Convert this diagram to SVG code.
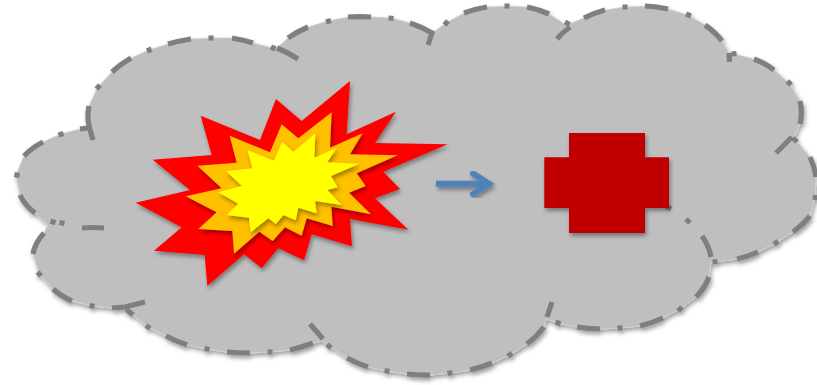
<svg xmlns="http://www.w3.org/2000/svg" width="817" height="385" viewBox="0 0 817 385">
<style>
.cloud{fill:#bfbfbf;stroke:#d0d0d0;stroke-width:.8}
.dash{fill:none;stroke:#7f7f7f;stroke-width:5.2;stroke-linecap:butt}
.shadow{filter:url(#ds)}
.arrow{fill:none;stroke:#4f81bd;stroke-width:6}
</style>
<defs>
<filter id="ds" x="-10%" y="-10%" width="125%" height="125%">
<feDropShadow dx="1.5" dy="3" stdDeviation="2.2" flood-color="#000" flood-opacity=".38"/>
</filter>
</defs>
<g id="cloud">
<g class="shadow">
<polygon class="cloud" points="48,225 35,213 20,195 16,175 24,156 43,142 61,134 80,129 89,128 89,106 98,87 112,72 131,58 149,50 168,44 191,39 211,38 232,38 253,43 273,48 277,48 288,38 308,27 328,21 348,17 371,17 391,18 410,23 431,34 446,23 464,13 487,7 507,6 527,7 549,14 566,25 584,18 605,10 625,7 645,6 668,9 688,15 705,25 722,41 729,53 734,54 754,59 774,70 789,83 800,101 800,124 794,138 810,157 816,177 815,197 810,216 793,232 776,243 758,252 737,259 715,262 711,262 709,277 696,297 680,309 663,318 640,326 620,328 600,329 577,327 558,323 546,319 544,327 527,344 510,355 492,363 470,370 450,373 430,375 407,374 387,371 368,367 347,358 329,346 322,341 313,343 290,350 270,352 250,353 227,352 207,349 187,345 166,336 148,327 133,315 126,309 112,308 92,306 72,301 53,289 39,274 33,254 44,233"/>
<path class="dash" d="M104 228A80 50 0 0 0 82 228M64.500 223.500L59.500 222.500M55.500 222.700L50.500 221M35 213A80 50 0 0 1 20 195M16.500 177.500L17.500 172.500M24 156A80 50 0 0 1 43 142M58.500 135L63.500 133.500M80 129A80 50 0 0 1 92 128"/>
<path class="dash" d="M93 140L89 126A124 77 0 0 1 89 106M96.500 89L100 85M112 72A124 77 0 0 1 131 58M147 51L151.500 49M168 44A124 77 0 0 1 191 39M208.500 38L213.500 38M232 38A124 77 0 0 1 253 43M271 47L275.500 49M277 48A124 77 0 0 1 298 59"/>
<path class="dash" d="M288 38A100 70 0 0 1 308 27M326 22L331 20.500M348 17A100 70 0 0 1 371 17M388.500 18L393.500 18.500M410 23A100 70 0 0 1 432 33L428 45"/>
<path class="dash" d="M444.500 25L448 21M464 13A85 55 0 0 1 487 7M504.500 6L509.500 6M527 7A85 55 0 0 1 549 14M565 22L569.500 24.500"/>
<path class="dash" d="M557 39A90 70 0 0 1 570 27M584 18A90 70 0 0 1 605 10M622.500 7L627.500 7M645 6A90 70 0 0 1 668 9M686 14L691 16M705 25A90 70 0 0 1 722 41M729 53L729.500 62"/>
<path class="dash" d="M731.500 54L736.500 53.500M754 59A70 60 0 0 1 774 70M787.500 81L791 85M800 101A70 60 0 0 1 800 124M792 137L776 153"/>
<path class="dash" d="M793 138L797 142M810 157A100 80 0 0 1 816 177M816 195L815 200M810 216A100 80 0 0 1 793 232M778 241L774 244.500M758 252A100 80 0 0 1 737 259M717.500 261.500L712.500 262"/>
<path class="dash" d="M652 198L671 209M686 219L690 223M702 236A110 70 0 0 1 711 257M709 277A110 70 0 0 1 696 297M682 307L678 311M663 318A110 70 0 0 1 640 326M622.500 327.500L617.500 328.500M600 329A110 70 0 0 1 577 327M560.500 324L555.500 322"/>
<path class="dash" d="M552 302L547 317M544 327A125 85 0 0 1 527 344M512 353L508 356.500M492 363A125 85 0 0 1 470 370M452.500 372.500L447.500 373.500M430 375A125 85 0 0 1 407 374M389.500 371.500L384.500 370.500M368 367A125 85 0 0 1 347 358M331 348L327 344.500M323 339L310 324"/>
<path class="dash" d="M313 343A130 75 0 0 1 290 350M272.500 352L267.500 352M250 353A130 75 0 0 1 227 352M209.500 349.500L204.500 348.500M187 345A130 75 0 0 1 166 336M150 328.500L146 325.500M133 315L126 309"/>
<path class="dash" d="M145 302L125 307L112 308M94.500 306.500L89.500 305.500M72 301A75 50 0 0 1 53 289M41 276L37.500 272M33 254A75 50 0 0 1 44 233"/>
</g>
</g>
<g id="burst-red" class="shadow"><polygon fill="#ff0000" transform="translate(130 75) scale(.33333)" points="660,18 650,178 798,110 735,204 953,208 760,290 810,342 735,370 835,464 660,432 666,514 545,478 522,556 445,520 395,580 342,538 232,633 224,540 72,527 155,457 17,383 180,345 68,254 245,240 212,122 390,195 438,72 515,138"/></g>
<g id="burst-orange" class="shadow"><polygon fill="#ffc000" transform="translate(130 75) scale(.33333)" points="605,112 600,218 698,175 660,238 803,241 680,295 707,333 657,353 723,418 604,395 608,453 530,430 515,482 465,457 428,498 388,470 312,536 307,468 205,462 260,412 167,364 275,340 202,272 320,263 299,182 420,232 455,148 505,190"/></g>
<g id="burst-yellow" class="shadow"><polygon fill="#ffff00" transform="translate(130 75) scale(.33333)" points="556,175 553,248 620,218 592,262 688,266 603,303 623,337 592,345 635,390 555,378 560,415 505,398 497,436 460,420 438,447 415,430 362,472 357,428 290,420 325,386 265,352 335,332 288,288 367,280 352,225 432,257 456,200 490,230"/></g>
<g id="plus" class="shadow"><polygon fill="#c00000" points="569,133 645,133 645,157.300 669,157.300 669,208 645,208 645,233 569,233 569,208 544.300,208 544.300,157.300 569,157.300"/></g>
<g id="connectors" class="shadow">
<path class="arrow" d="M436 183.700H486"/>
<path class="arrow" stroke-linecap="round" d="M473 173.500L489 183.700L473 194"/>
</g>
</svg>
